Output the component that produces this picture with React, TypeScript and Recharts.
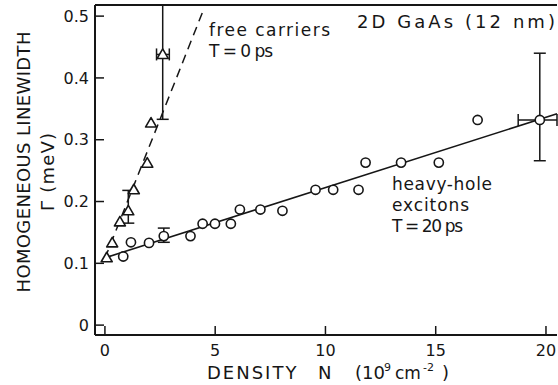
import React from 'react';
import { ScatterChart, Scatter, XAxis, YAxis, ErrorBar, ReferenceLine } from 'recharts';

const INK = '#161616';
const FONT = '"DejaVu Sans", sans-serif';

const X_TICKS = [0, 5, 10, 15, 20];
const Y_TICKS = [0, 0.1, 0.2, 0.3, 0.4, 0.5];
const X_DOMAIN = [-0.45, 20.5];
const Y_DOMAIN = [-0.016, 0.518];

// heavy-hole excitons, T = 20 ps
const excitonN = [0.83, 1.18, 2.0, 2.67, 3.88, 4.43, 4.99, 5.71, 6.12, 7.05, 8.05, 9.55, 10.35, 11.5, 11.82, 13.43, 15.14, 16.9, 19.72];
const excitonG = [0.111, 0.134, 0.133, 0.144, 0.144, 0.164, 0.164, 0.164, 0.187, 0.187, 0.185, 0.219, 0.219, 0.219, 0.263, 0.263, 0.263, 0.332, 0.332];
// [down, up] and [left, right] errors, null = no bar
const excitonDy = [null, null, null, [0.01, 0.013], null, null, null, null, null, null, null, null, null, null, null, null, null, null, [0.066, 0.108]];
const excitonDx = [null, null, null, null, null, null, null, null, null, null, null, null, null, null, null, null, null, null, [0.98, 0.78]];

// free carriers, T = 0 ps
const freeN = [0.08, 0.33, 0.68, 1.06, 1.31, 1.92, 2.09, 2.62];
const freeG = [0.109, 0.133, 0.167, 0.185, 0.219, 0.262, 0.327, 0.438];
const freeDy = [null, null, null, [0.02, 0.033], null, null, null, [0.105, 0.08]];
const freeDx = [null, null, null, null, null, null, null, [0.28, 0.3]];

// fitted lines (end points)
const freeFit = [[0, 0.108], [4.5, 0.513]];
const excitonFit = [[0.1, 0.11], [20.5, 0.342]];

const rows = (n: number[], g: number[], dy: any[], dx: any[]) =>
    n.map((v, i) => ({ n: v, g: g[i], dy: dy[i], dx: dx[i] }));

const split = (all: any[]) => ({
    plain: all.filter(r => !r.dy && !r.dx),
    yOnly: all.filter(r => r.dy && !r.dx),
    xy: all.filter(r => r.dy && r.dx),
});

const excitons = split(rows(excitonN, excitonG, excitonDy, excitonDx));
const free = split(rows(freeN, freeG, freeDy, freeDx));

// eslint-disable-next-line @typescript-eslint/no-explicit-any
const CircleDot = (p: any) => (
    <circle cx={p.cx} cy={p.cy} r={4.6} fill="#fff" stroke={INK} strokeWidth={1.6} />
);

// eslint-disable-next-line @typescript-eslint/no-explicit-any
const TriangleDot = (p: any) => (
    <path
        d={`M${p.cx},${p.cy - 5.5} L${p.cx + 5.5},${p.cy + 4} L${p.cx - 5.5},${p.cy + 4} Z`}
        fill="#fff"
        stroke={INK}
        strokeWidth={1.6}
        strokeLinejoin="round"
    />
);

const errY = <ErrorBar dataKey="dy" direction="y" width={6} stroke={INK} strokeWidth={1.5} />;
const errX = <ErrorBar dataKey="dx" direction="x" width={6} stroke={INK} strokeWidth={1.5} />;

const txt = { fill: INK, fontFamily: FONT };

export default function App() {
    return (
        <div style={{ position: 'absolute', left: 0, top: 0, width: 558, height: 385, background: '#fff' }}>
            <ScatterChart width={558} height={385} margin={{ top: 5, right: 1, bottom: 0, left: 0 }}>
                <XAxis
                    type="number"
                    dataKey="n"
                    domain={X_DOMAIN}
                    ticks={X_TICKS}
                    allowDataOverflow
                    height={50}
                    tickSize={-9}
                    tickMargin={19}
                    stroke={INK}
                    axisLine={{ stroke: INK, strokeWidth: 2 }}
                    tickLine={{ stroke: INK, strokeWidth: 1.5 }}
                    tick={{ ...txt, fontSize: 16 }}
                />
                <YAxis
                    type="number"
                    dataKey="g"
                    domain={Y_DOMAIN}
                    ticks={Y_TICKS}
                    allowDataOverflow
                    width={95}
                    tickSize={-9}
                    tickMargin={15}
                    stroke={INK}
                    axisLine={{ stroke: INK, strokeWidth: 2 }}
                    tickLine={{ stroke: INK, strokeWidth: 1.5 }}
                    tick={{ ...txt, fontSize: 16 }}
                    tickFormatter={(v: number) => (v === 0 ? '0' : v.toFixed(1))}
                />
                <ReferenceLine y={Y_DOMAIN[1]} stroke={INK} strokeWidth={2} />
                <ReferenceLine
                    segment={freeFit.map(([x, y]) => ({ x, y }))}
                    stroke={INK}
                    strokeWidth={1.5}
                    strokeDasharray="9 6"
                />
                <ReferenceLine
                    segment={excitonFit.map(([x, y]) => ({ x, y }))}
                    stroke={INK}
                    strokeWidth={1.6}
                />
                <Scatter data={excitons.plain} shape={CircleDot} isAnimationActive={false} />
                <Scatter data={excitons.yOnly} shape={CircleDot} isAnimationActive={false}>
                    {errY}
                </Scatter>
                <Scatter data={excitons.xy} shape={CircleDot} isAnimationActive={false}>
                    {errY}
                    {errX}
                </Scatter>
                <Scatter data={free.plain} shape={TriangleDot} isAnimationActive={false} />
                <Scatter data={free.yOnly} shape={TriangleDot} isAnimationActive={false}>
                    {errY}
                </Scatter>
                <Scatter data={free.xy} shape={TriangleDot} isAnimationActive={false}>
                    {errY}
                    {errX}
                </Scatter>
            </ScatterChart>

            {/* annotations and axis titles */}
            <svg width={558} height={385} style={{ position: 'absolute', left: 0, top: 0, pointerEvents: 'none' }}>
                <text {...txt} fontSize={18} textAnchor="middle" dominantBaseline="central"
                    transform="rotate(-90 23 162)" x={23} y={162} textLength={261} lengthAdjust="spacing">
                    HOMOGENEOUS LINEWIDTH
                </text>
                <text {...txt} fontSize={18} textAnchor="middle" dominantBaseline="central"
                    transform="rotate(-90 47 172)" x={47} y={172} textLength={78} lengthAdjust="spacing">
                    Γ (meV)
                </text>

                <text {...txt} fontSize={18} x={357} y={28} textLength={198} lengthAdjust="spacing">2D GaAs (12 nm)</text>

                <text {...txt} fontSize={17} x={209} y={36} textLength={121} lengthAdjust="spacing">free carriers</text>
                <text {...txt} fontSize={17} x={209} y={57} textLength={64} lengthAdjust="spacing">T = 0 ps</text>

                <text {...txt} fontSize={17} x={392} y={190} textLength={100} lengthAdjust="spacing">heavy-hole</text>
                <text {...txt} fontSize={17} x={392} y={211} textLength={77} lengthAdjust="spacing">excitons</text>
                <text {...txt} fontSize={17} x={392} y={232} textLength={71} lengthAdjust="spacing">T = 20 ps</text>

                <text {...txt} fontSize={18}>
                    <tspan x={207} y={379} letterSpacing={2}>DENSITY</tspan>
                    <tspan x={318} y={379}>N</tspan>
                    <tspan x={355} y={379}>(10</tspan>
                    <tspan x={384} y={371} fontSize={11}>9</tspan>
                    <tspan x={395} y={379} fontSize={17}>cm</tspan>
                    <tspan x={423} y={371} fontSize={11}>-2</tspan>
                    <tspan x={442} y={379}>)</tspan>
                </text>
            </svg>
        </div>
    );
}
